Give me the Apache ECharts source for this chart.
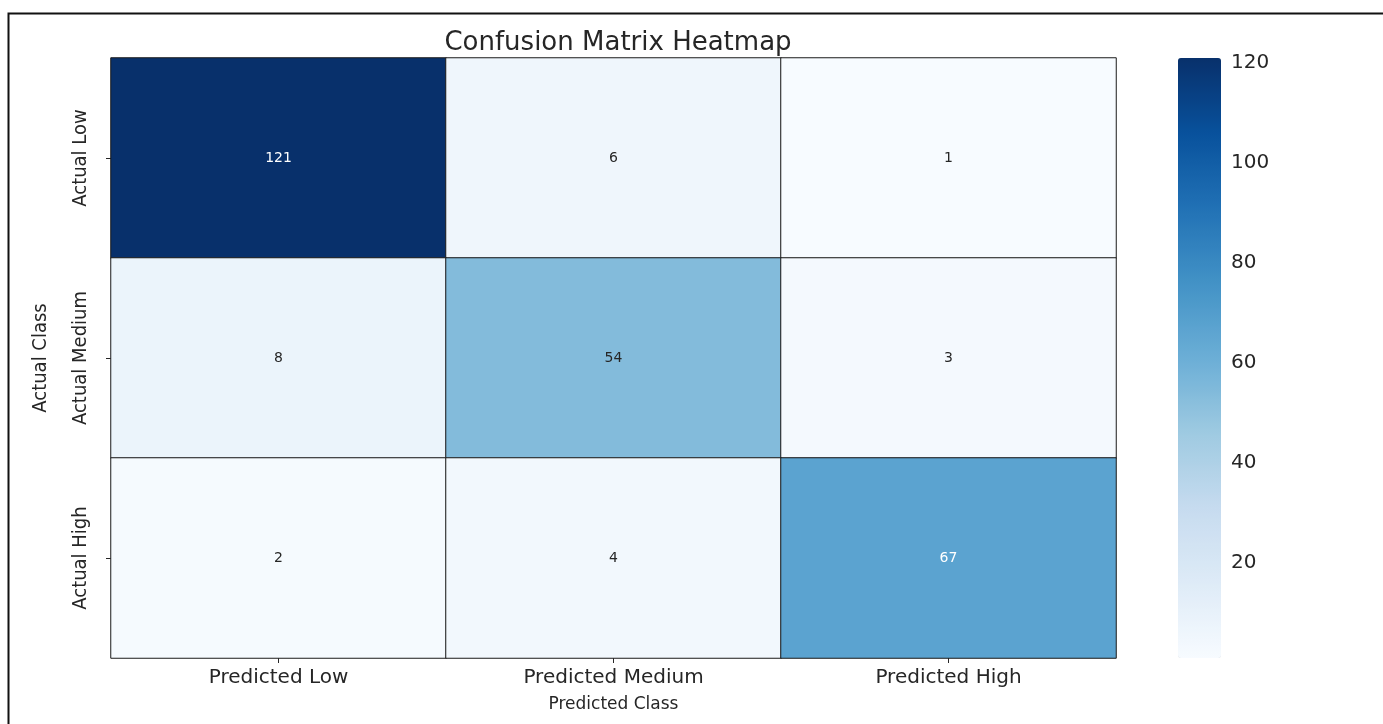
<!DOCTYPE html>
<html>
<head>
<meta charset="utf-8">
<script src="https://cdn.jsdelivr.net/npm/echarts@6/dist/echarts.min.js"></script>
<style>
  html, body { margin: 0; padding: 0; background: #fff; }
  #chart { width: 1383px; height: 724px; }
</style>
</head>
<body>
<div id="chart"></div>
<script>
// Confusion matrix counts, rows = actual class, columns = predicted class
const predictedLabels = ['Predicted Low', 'Predicted Medium', 'Predicted High'];
const actualLabels = ['Actual Low', 'Actual Medium', 'Actual High'];
const rowLow = [121, 6, 1];
const rowMedium = [8, 54, 3];
const rowHigh = [2, 4, 67];
const colorbarTicks = [20, 40, 60, 80, 100, 120];

const matrix = [rowLow, rowMedium, rowHigh];
const cells = [];
matrix.forEach((row, r) => row.forEach((v, c) => cells.push([c, r, v])));
const allValues = matrix.flat();
const vMin = Math.min(...allValues);
const vMax = Math.max(...allValues);

// matplotlib "Blues" colour ramp
const blues = ['#f7fbff', '#deebf7', '#c6dbef', '#9ecae1', '#6baed6',
               '#4292c6', '#2171b5', '#08519c', '#08306b'];

const labelFont = '"DejaVu Sans", Verdana, sans-serif';
const narrowFont = '"DejaVu Sans", "Liberation Sans", sans-serif';
const ink = '#262626';

const chart = echarts.init(document.getElementById('chart'));
chart.setOption({
  animation: false,
  backgroundColor: '#fff',
  title: {
    text: 'Confusion Matrix Heatmap',
    left: 613, top: 25, textAlign: 'center',
    textStyle: { fontFamily: labelFont, fontSize: 26, fontWeight: 'normal', color: ink }
  },
  graphic: [{
    type: 'rect', left: 6, top: 11, silent: true,
    shape: { width: 1420, height: 760 },
    style: { fill: 'none', stroke: '#111', lineWidth: 2 }
  }],
  grid: [
    { left: 111, right: 267, top: 58, bottom: 66 },
    { left: 1178, width: 43, top: 58, bottom: 66 }
  ],
  xAxis: [{
    type: 'category', data: predictedLabels, gridIndex: 0,
    axisLine: { show: false },
    axisTick: { show: true, alignWithLabel: true, length: 5, lineStyle: { color: ink } },
    axisLabel: { fontFamily: labelFont, fontSize: 20, color: ink, margin: 10 },
    name: 'Predicted Class', nameLocation: 'middle', nameGap: 38,
    nameTextStyle: { fontFamily: labelFont, fontSize: 17, color: ink }
  }, {
    type: 'value', gridIndex: 1, show: false
  }],
  yAxis: [{
    type: 'category', data: actualLabels, gridIndex: 0, inverse: true,
    axisLine: { show: false },
    axisTick: { show: true, alignWithLabel: true, length: 5, lineStyle: { color: ink } },
    // condensed face for the row labels
    axisLabel: { rotate: 90, fontFamily: narrowFont, fontWeight: 'condensed', fontSize: 20, color: ink, margin: 20 },
    name: 'Actual Class', nameLocation: 'middle', nameGap: 60, nameRotate: 90,
    nameTextStyle: { fontFamily: narrowFont, fontWeight: 'condensed', fontSize: 20, color: ink }
  }, {
    type: 'value', gridIndex: 1, position: 'right', min: vMin, max: vMax,
    axisLine: { show: false },
    splitLine: { show: false },
    axisTick: { show: true, length: 6, customValues: colorbarTicks, lineStyle: { color: ink } },
    axisLabel: { customValues: colorbarTicks, fontFamily: labelFont, fontSize: 20, color: ink, margin: 10 }
  }],
  visualMap: {
    type: 'continuous', min: vMin, max: vMax, seriesIndex: 0,
    left: 1178, top: 58, itemWidth: 43, itemHeight: 600, padding: 0,
    calculable: false, text: null, showLabel: false, hoverLink: false,
    inRange: { color: blues }
  },
  series: [{
    type: 'heatmap', xAxisIndex: 0, yAxisIndex: 0,
    // white annotations on dark cells, dark on light ones
    data: cells.map(c => ({
      value: c,
      label: { color: c[2] > (vMin + vMax) / 2 ? '#ffffff' : ink }
    })),
    itemStyle: { borderColor: '#1a1a1a', borderWidth: 1 },
    label: {
      show: true, fontFamily: labelFont, fontSize: 14,
      formatter: p => String(p.value[2])
    },
    emphasis: { disabled: true }
  }]
});
</script>
</body>
</html>
